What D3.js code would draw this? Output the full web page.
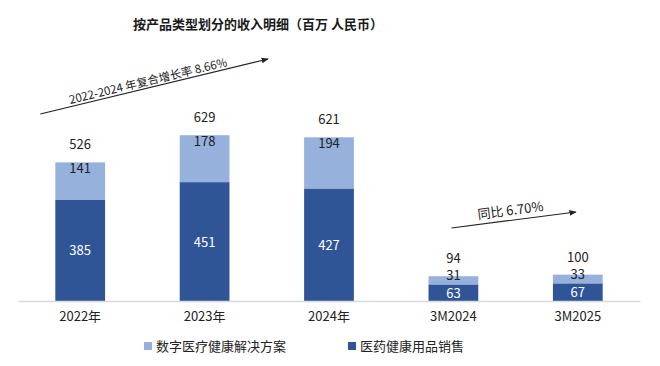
<!DOCTYPE html>
<html>
<head>
<meta charset="utf-8">
<script src="https://cdn.jsdelivr.net/npm/d3@7"></script>
<style>
  body { margin: 0; background: #fff; }
  svg text { font-family: "Noto Sans CJK SC", "Noto Sans", sans-serif; }
</style>
</head>
<body>
<div id="chart"></div>
<script>
// 数据
const categories = ['2022年', '2023年', '2024年', '3M2024', '3M2025'];
const digitalHealth = [141, 178, 194, 31, 33];   // 数字医疗健康解决方案
const pharmaSales = [385, 451, 427, 63, 67];     // 医药健康用品销售
const totals = [526, 629, 621, 94, 100];
const seriesNames = ['数字医疗健康解决方案', '医药健康用品销售'];
const cagrNote = '2022-2024 年复合增长率 8.66%';
const yoyNote = '同比 6.70%';

const width = 660, height = 366;
const colorDark = '#2f5597', colorLight = '#96b1dc';

const svg = d3.select('#chart').append('svg')
    .attr('width', width)
    .attr('height', height);

const xScale = d3.scaleBand().domain(categories).range([18, 640]).paddingInner(0.6).paddingOuter(0.3);
const yScale = d3.scaleLinear().domain([0, 700]).range([301, 116.5]);

// 标题
svg.append('text')
    .attr('x', 258).attr('y', 29)
    .attr('text-anchor', 'middle')
    .style('font-size', '13px').style('font-weight', 'bold').style('fill', '#1a1a1a')
    .text('按产品类型划分的收入明细（百万 人民币）');

// 柱子
const g = svg.append('g');
categories.forEach((c, i) => {
    const x = xScale(c), w = xScale.bandwidth();
    const y0 = yScale(0), y1 = yScale(pharmaSales[i]), y2 = yScale(pharmaSales[i] + digitalHealth[i]);
    g.append('rect').attr('x', x).attr('y', y1).attr('width', w).attr('height', y0 - y1).attr('fill', colorDark);
    g.append('rect').attr('x', x).attr('y', y2).attr('width', w).attr('height', y1 - y2).attr('fill', colorLight);

    // 数值标签
    g.append('text').attr('x', x + w / 2).attr('y', (y0 + y1) / 2 + 5)
        .attr('text-anchor', 'middle').style('font-size', '13px').style('fill', '#fff')
        .text(pharmaSales[i]);
    g.append('text').attr('x', x + w / 2).attr('y', Math.min((y1 + y2) / 2 - 5, y2 + 6) + 5)
        .attr('text-anchor', 'middle').style('font-size', '13px').style('fill', '#222')
        .text(digitalHealth[i]);
    g.append('text').attr('x', x + w / 2).attr('y', yScale(totals[i]) - 18 + 5)
        .attr('text-anchor', 'middle').style('font-size', '13px').style('fill', '#222')
        .text(totals[i]);
});

// x 轴
const xAxis = svg.append('g').attr('transform', `translate(0,${yScale(0)})`)
    .call(d3.axisBottom(xScale).tickSize(0).tickPadding(11));
xAxis.select('.domain').attr('stroke', '#d9d9d9').attr('stroke-width', 1.5);
xAxis.selectAll('text').style('font-size', '13px').style('fill', '#222')
    .style('font-family', '"Noto Sans CJK SC", "Noto Sans", sans-serif');

// 箭头
svg.append('defs').append('marker')
    .attr('id', 'arrow').attr('viewBox', '0 0 10 10')
    .attr('refX', 9).attr('refY', 5)
    .attr('markerWidth', 6).attr('markerHeight', 6)
    .attr('orient', 'auto')
    .append('path').attr('d', 'M0,1L10,5L0,9Z').attr('fill', '#222');

function trendArrow(x1, y1, x2, y2, label, lx, ly, fs) {
    svg.append('line')
        .attr('x1', x1).attr('y1', y1).attr('x2', x2).attr('y2', y2)
        .attr('stroke', '#222').attr('stroke-width', 1.2)
        .attr('marker-end', 'url(#arrow)');
    const angle = Math.atan2(y2 - y1, x2 - x1) * 180 / Math.PI;
    svg.append('text')
        .attr('transform', `translate(${lx},${ly}) rotate(${angle})`)
        .attr('text-anchor', 'middle')
        .style('font-size', fs).style('fill', '#222')
        .text(label);
}
trendArrow(xScale(categories[0]) - 15, 114, xScale(categories[2]) - 36, 59, cagrNote, 149, 85, '11.5px');
trendArrow(xScale(categories[3]) + 23, 228, xScale(categories[4]) + 23, 212, yoyNote, 511, 215, '13px');

// 图例
const legend = svg.append('g').attr('transform', 'translate(144,346)');
[[colorLight, seriesNames[0], 0], [colorDark, seriesNames[1], 204]].forEach(([col, name, dx]) => {
    legend.append('rect').attr('x', dx).attr('y', -4).attr('width', 8).attr('height', 8).attr('fill', col);
    legend.append('text').attr('x', dx + 12).attr('y', 5)
        .style('font-size', '13px').style('fill', '#222').text(name);
});
</script>
</body>
</html>
